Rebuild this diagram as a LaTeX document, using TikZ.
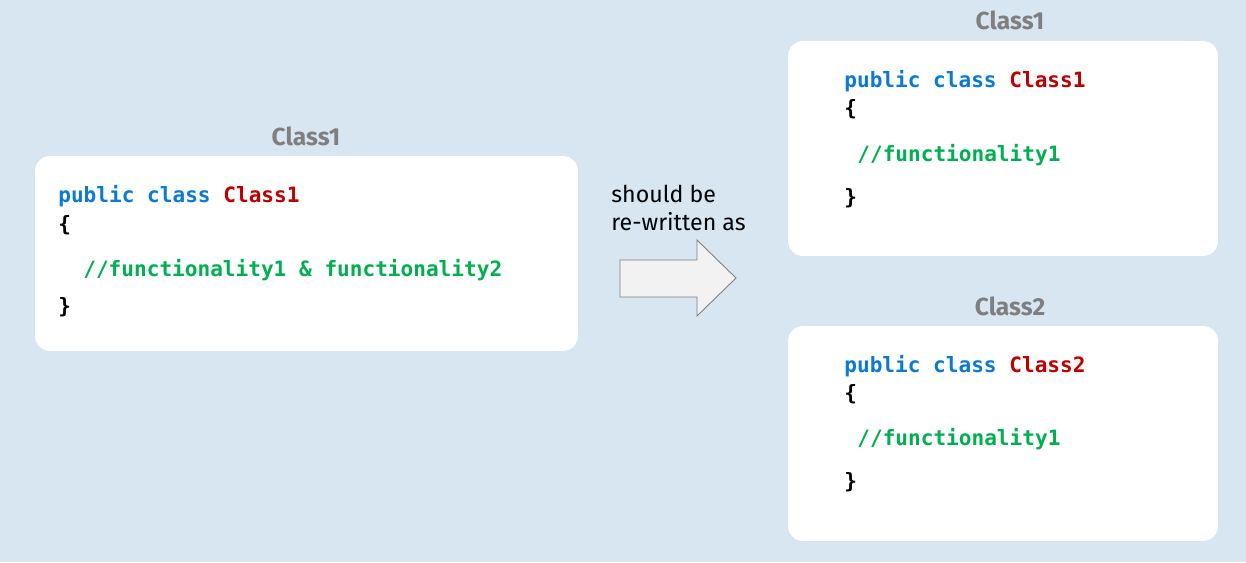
\documentclass[tikz,border=0pt]{standalone}
\usepackage{fontspec}
\setmainfont{Fira Sans}
\newfontfamily\codefont{DejaVu Sans Mono}
\definecolor{bgblue}{HTML}{D7E6F0}
\definecolor{kwblue}{HTML}{0A7AD6}
\definecolor{typered}{HTML}{C00000}
\definecolor{cmtgreen}{HTML}{00B050}
\definecolor{titlegrey}{HTML}{7F7F7F}
\definecolor{arrowfill}{HTML}{F2F2F2}
\tikzset{
  classbox/.style={fill=white, rounded corners=0.3cm, inner sep=0pt},
  boxtitle/.style={text=titlegrey, font=\bfseries\fontsize{14}{16}\selectfont},
  codeline/.style={anchor=west, inner sep=0pt, font=\codefont\bfseries\fontsize{12}{14}\selectfont},
}
\begin{document}
\begin{tikzpicture}[x=0.02cm, y=-0.02cm]
        \fill [bgblue] (0,0) rectangle (1246,562);
        \useasboundingbox (0,0) rectangle (1246,562);
        % original class
        \node [classbox, minimum width=10.86cm, minimum height=3.9cm] (box1) at (306.5,253.5) {};
        \node [boxtitle] (title1) at (306,136) {Class1};
        \node [codeline] (head1) at (58,196) {\color{kwblue}public class \color{typered}Class1};
        \node [codeline] (open1) at (58,225) {\{};
        \node [codeline, text=cmtgreen] (cmt1) at (83,270) {//functionality1 \& functionality2};
        \node [codeline] (close1) at (58,307) {\}};
        % split classes
        \node [classbox, minimum width=8.6cm, minimum height=4.3cm] (box2) at (1003,148.5) {};
        \node [boxtitle] (title2) at (1010,20) {Class1};
        \node [codeline] (head2) at (844,81) {\color{kwblue}public class \color{typered}Class1};
        \node [codeline] (open2) at (844,109) {\{};
        \node [codeline, text=cmtgreen] (cmt2) at (857,155) {//functionality1};
        \node [codeline] (close2) at (844,198) {\}};
        \node [classbox, minimum width=8.6cm, minimum height=4.3cm] (box3) at (1003,433.5) {};
        \node [boxtitle] (title3) at (1010,306) {Class2};
        \node [codeline] (head3) at (844,366) {\color{kwblue}public class \color{typered}Class2};
        \node [codeline] (open3) at (844,394) {\{};
        \node [codeline, text=cmtgreen] (cmt3) at (857,439) {//functionality1};
        \node [codeline] (close3) at (844,482) {\}};
        % arrow
        \node [anchor=west, align=left, inner sep=0pt, font=\fontsize{13.2}{15.9}\selectfont] (note) at (611,208) {should be\\re-written as};
        \draw [titlegrey, fill=arrowfill, line width=0.5pt] (620,260) -- (697,260) -- (697,240) -- (736,278) -- (697,316) -- (697,297) -- (620,297) -- cycle;
    \end{tikzpicture}
\end{document}
